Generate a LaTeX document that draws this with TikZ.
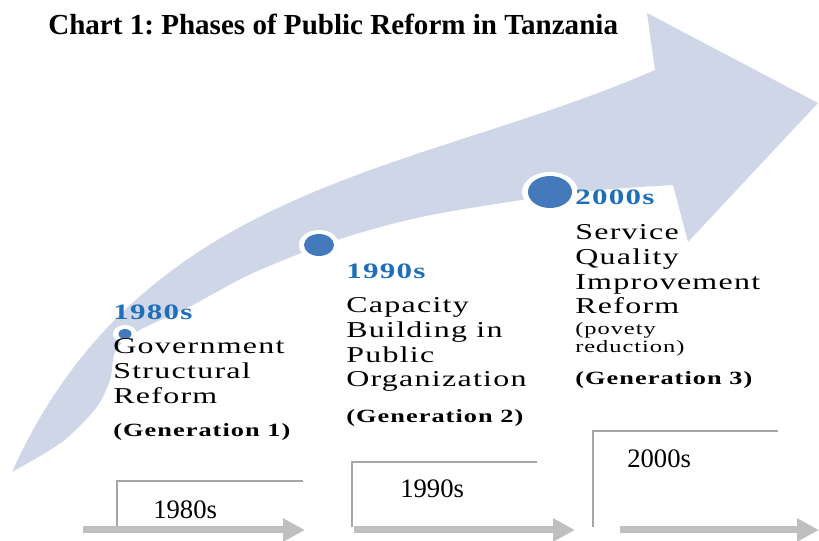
\documentclass[tikz,border=0pt]{standalone}
\usepackage{fontspec}
\usepackage{graphicx}
\setmainfont{Liberation Serif}
\newfontfamily\widefont[LetterSpace=4]{Liberation Serif}
\usetikzlibrary{arrows.meta}

\definecolor{shaftblue}{RGB}{207,214,232}
\definecolor{dotblue}{RGB}{68,122,187}
\definecolor{yearblue}{RGB}{30,110,185}
\definecolor{linegray}{RGB}{166,166,166}
\definecolor{arrowgray}{RGB}{191,191,191}

\newcommand{\stretchtext}[1]{\scalebox{1.41}[1]{\begin{tabular}[t]{@{}l@{}}#1\end{tabular}}}

\begin{document}
\frenchspacing
\begin{tikzpicture}[x=0.75pt,y=-0.75pt,
  year/.style={anchor=base west,inner sep=0pt,text=yearblue,font=\widefont\bfseries\fontsize{16.5}{18}\selectfont},
  phase/.style={anchor=base west,inner sep=0pt,font=\widefont\fontsize{17}{18.4}\selectfont},
  note/.style={anchor=base west,inner sep=0pt,font=\widefont\fontsize{13}{13.5}\selectfont},
  gen/.style={anchor=base west,inner sep=0pt,font=\widefont\bfseries\fontsize{14}{16}\selectfont},
  decade/.style={anchor=base west,inner sep=0pt,font=\fontsize{20}{24}\selectfont},
  tick/.style={draw=linegray,line width=1.5pt},
  timeline/.style={draw=arrowgray,line width=5.25pt,-{Triangle[length=16.5pt,width=16.5pt]}}]
\useasboundingbox (0,0) rectangle (819,541);

\node[anchor=base west,inner sep=0pt,font=\bfseries\fontsize{21.8}{26}\selectfont] (title) at (48,35) {Chart 1: Phases of Public Reform in Tanzania};

% big curved arrow
\fill[shaftblue] (12,472) .. controls (144,180) and (420,173) .. (655,70)
  -- (647,13) -- (818,103) -- (688,242) -- (673,185)
  -- plot[smooth] coordinates {(673,185) (600,190) (522,200) (421,217) (337,240) (253,273) (189,307) (140,330) (116,350) (110,380) (96,408) (62,442) (12,472)}
  -- cycle;

\fill[white] (125,334) ellipse [x radius=12, y radius=9];
\fill[dotblue] (125,334) ellipse [x radius=6.5, y radius=5];
\fill[white] (319,245) ellipse [x radius=20, y radius=15];
\fill[dotblue] (319,245) ellipse [x radius=15, y radius=11];
\fill[white] (550,192) ellipse [x radius=28, y radius=20];
\fill[dotblue] (550,192) ellipse [x radius=22, y radius=16];

\node[year] (y80) at (113,320) {\stretchtext{1980s}};
\node[phase] (p80) at (113,354) {\stretchtext{Government\\Structural\\Reform}};
\node[gen] (g80) at (113,437) {\stretchtext{(Generation 1)}};

\node[year] (y90) at (346,279) {\stretchtext{1990s}};
\node[phase] (p90) at (346,313) {\stretchtext{Capacity\\Building in\\Public\\Organization}};
\node[gen] (g90) at (346,423) {\stretchtext{(Generation 2)}};

\node[year] (y00) at (575,205) {\stretchtext{2000s}};
\node[phase] (p00) at (575,240) {\stretchtext{Service\\Quality\\Improvement\\Reform}};
\node[note] (n00) at (575,335) {\stretchtext{(povety\\reduction)}};
\node[gen] (g00) at (575,385) {\stretchtext{(Generation 3)}};

% decade boxes
\draw[tick] (117,526) -- (117,481) -- (303,481);
\draw[tick] (352,527) -- (352,462) -- (537,462);
\draw[tick] (593,527) -- (593,431) -- (778,431);
\node[decade] (d80) at (153,519) {1980s};
\node[decade] (d90) at (400,498) {1990s};
\node[decade] (d00) at (627,468) {2000s};

\draw[timeline] (83,530) -- (305,530);
\draw[timeline] (354,530) -- (575,530);
\draw[timeline] (620,530) -- (819,530);
%\draw[step=10,color=gray!50!white] (0,0) grid (819,541);
\end{tikzpicture}
\end{document}
